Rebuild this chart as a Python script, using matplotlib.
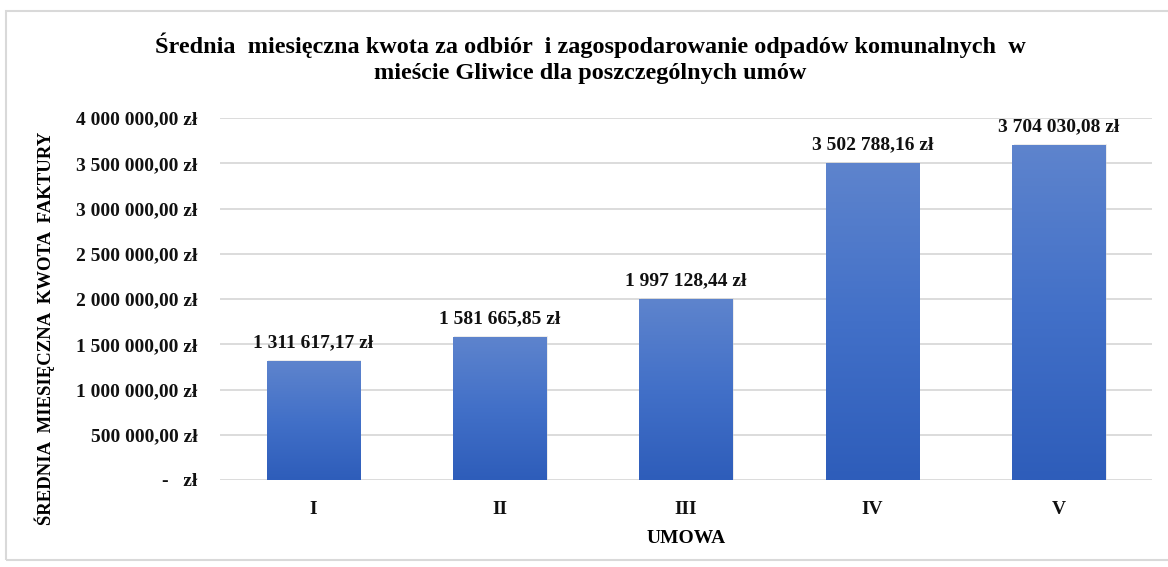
import numpy as np
import matplotlib.pyplot as plt
from matplotlib.patches import Rectangle
from matplotlib.colors import LinearSegmentedColormap

# Dane
umowy = ['I', 'II', 'III', 'IV', 'V']
kwoty = [1311617.17, 1581665.85, 1997128.44, 3502788.16, 3704030.08]
etykiety = ['1 311 617,17 zł', '1 581 665,85 zł', '1 997 128,44 zł',
            '3 502 788,16 zł', '3 704 030,08 zł']
ticki = [0, 500000, 1000000, 1500000, 2000000, 2500000, 3000000, 3500000, 4000000]
ticki_opis = ['-   zł', '500 000,00 zł', '1 000 000,00 zł', '1 500 000,00 zł',
              '2 000 000,00 zł', '2 500 000,00 zł', '3 000 000,00 zł',
              '3 500 000,00 zł', '4 000 000,00 zł']

plt.rcParams['font.family'] = ['Liberation Serif', 'DejaVu Serif']
plt.rcParams['font.weight'] = 'bold'

fig = plt.figure(figsize=(11.68, 5.67), dpi=100)
ax = fig.add_axes([220 / 1168, 1 - 480 / 567, 932 / 1168, 362 / 567])

x = np.arange(len(umowy))
bars = ax.bar(x, kwoty, width=0.5, color='#4472C4', zorder=2)

# Gradient na słupkach
cmap = LinearSegmentedColormap.from_list('grad', ['#2E5DBA', '#4270C8', '#5E84CD'])
grad = np.linspace(0, 1, 256).reshape(-1, 1)
for b in bars:
    x0, w, h = b.get_x(), b.get_width(), b.get_height()
    # cień
    ax.add_patch(Rectangle((x0 + 0.008, 0), w, h + 10000, color='#d0d0d0',
                           alpha=0.4, zorder=1.5, lw=0))
    im = ax.imshow(grad, cmap=cmap, aspect='auto', origin='lower',
                   extent=(x0, x0 + w, 0, h), zorder=3)
    im.set_clip_path(b)
    b.set_facecolor('none')

for b, t in zip(bars, etykiety):
    ax.annotate(t, (b.get_x() + b.get_width() / 2, b.get_height()),
                xytext=(0, 7), textcoords='offset points', ha='center',
                va='bottom', fontsize=14, fontweight='bold', color='#111111')

ax.set_xlim(-0.5, len(umowy) - 0.5)
ax.set_ylim(0, 4000000)
ax.set_yticks(ticki)
ax.set_yticklabels(ticki_opis)
ax.set_xticks(x)
ax.set_xticklabels(umowy)
ax.tick_params(axis='both', length=0, labelsize=14, colors='#111111')
ax.tick_params(axis='y', pad=16)
ax.tick_params(axis='x', pad=15)
ax.grid(axis='y', color='#d9d9d9', lw=1.3, zorder=0)
ax.set_axisbelow(True)
for s in ax.spines.values():
    s.set_visible(False)

ax.set_xlabel('UMOWA', fontsize=14, fontweight='bold', labelpad=9)
ax.set_ylabel('ŚREDNIA  MIESIĘCZNA  KWOTA  FAKTURY', fontsize=13.5,
              fontweight='bold')
ax.yaxis.set_label_coords(-165 / 932, 0.42)

fig.suptitle('Średnia  miesięczna kwota za odbiór  i zagospodarowanie odpadów komunalnych  w\n'
             'mieście Gliwice dla poszczególnych umów',
             x=590 / 1168, y=1 - 32 / 567, va='top', fontsize=17.5,
             fontweight='bold', linespacing=1.32)

# Ramka wykresu
fig.patches.append(Rectangle((6 / 1168, 7 / 567), 1.0, 549 / 567,
                             transform=fig.transFigure, fill=False,
                             edgecolor='#d9d9d9', lw=1.5))

fig.savefig('out.png', dpi=100)
